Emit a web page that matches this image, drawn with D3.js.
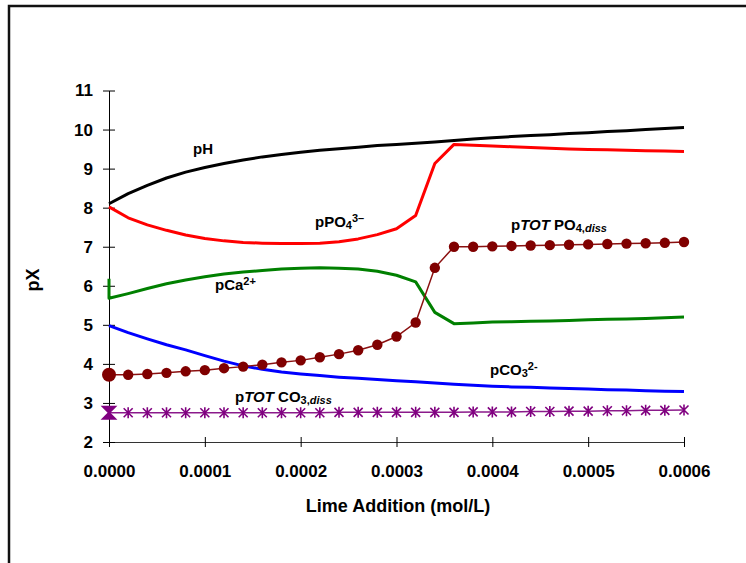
<!DOCTYPE html>
<html>
<head>
<meta charset="utf-8">
<script src="https://cdn.jsdelivr.net/npm/d3@7"></script>
<style>
  body { margin: 0; background: #fff; }
  svg { display: block; font-family: "Liberation Sans", Arial, sans-serif; }
  .lbl { font-size: 15px; font-weight: bold; }
  .axis text { font-size: 17px; font-weight: bold; fill: #000; }
</style>
</head>
<body>
<svg width="746" height="563"></svg>
<script>
// lime dose (mol/L)
const lime = [0, 0.00002, 0.00004, 0.00006, 0.00008, 0.0001, 0.00012, 0.00014, 0.00016, 0.00018,
  0.0002, 0.00022, 0.00024, 0.00026, 0.00028, 0.0003, 0.00032, 0.00034, 0.00036, 0.00038,
  0.0004, 0.00042, 0.00044, 0.00046, 0.00048, 0.0005, 0.00052, 0.00054, 0.00056, 0.00058, 0.0006];

const pH = [8.10, 8.36, 8.57, 8.76, 8.91, 9.03, 9.13, 9.22, 9.30, 9.36,
  9.42, 9.47, 9.51, 9.55, 9.59, 9.62, 9.65, 9.68, 9.72, 9.76,
  9.79, 9.82, 9.85, 9.87, 9.90, 9.92, 9.95, 9.97, 10.00, 10.03, 10.05];

const pPO4 = [8.02, 7.74, 7.56, 7.42, 7.30, 7.21, 7.15, 7.11, 7.09, 7.08,
  7.08, 7.09, 7.13, 7.20, 7.31, 7.46, 7.80, 9.13, 9.62, 9.60,
  9.58, 9.56, 9.54, 9.52, 9.50, 9.49, 9.48, 9.47, 9.46, 9.45, 9.44];

const pCaStart = 6.18; // value before the first drop at zero dose
const pCa = [5.68, 5.80, 5.93, 6.05, 6.15, 6.23, 6.30, 6.35, 6.39, 6.43,
  6.45, 6.46, 6.45, 6.43, 6.37, 6.27, 6.10, 5.32, 5.03, 5.05,
  5.07, 5.08, 5.09, 5.10, 5.11, 5.13, 5.14, 5.15, 5.16, 5.18, 5.20];

const pCO3 = [4.98, 4.80, 4.64, 4.49, 4.36, 4.21, 4.07, 3.95, 3.86, 3.79,
  3.74, 3.70, 3.66, 3.63, 3.60, 3.57, 3.54, 3.51, 3.48, 3.45,
  3.43, 3.41, 3.40, 3.38, 3.37, 3.36, 3.34, 3.33, 3.31, 3.30, 3.29];

const pTotPO4 = [3.72, 3.72, 3.74, 3.77, 3.81, 3.84, 3.89, 3.93, 3.98, 4.04,
  4.09, 4.17, 4.25, 4.35, 4.49, 4.70, 5.06, 6.46, 7.00, 7.00,
  7.01, 7.02, 7.03, 7.04, 7.05, 7.06, 7.07, 7.08, 7.09, 7.10, 7.12];

const pTotCO3 = [2.75, 2.75, 2.75, 2.75, 2.75, 2.75, 2.75, 2.75, 2.75, 2.75,
  2.75, 2.75, 2.76, 2.76, 2.76, 2.76, 2.76, 2.76, 2.76, 2.77,
  2.77, 2.77, 2.78, 2.78, 2.79, 2.79, 2.80, 2.80, 2.81, 2.81, 2.82];

const xTicks = [0, 0.0001, 0.0002, 0.0003, 0.0004, 0.0005, 0.0006];
const yTicks = [2, 3, 4, 5, 6, 7, 8, 9, 10, 11];

const svg = d3.select("svg");

// outer frame (runs off the right and bottom edges)
svg.append("rect")
  .attr("x", 9).attr("y", 6)
  .attr("width", 760).attr("height", 600)
  .attr("fill", "none").attr("stroke", "#111").attr("stroke-width", 2.5);

const x = d3.scaleLinear().domain([0, 0.0006]).range([109, 684]);
const y = d3.scaleLinear().domain([2, 11]).range([442, 90.5]);

const pts = v => v.map((d, i) => [lime[i], d]);
const line = d3.line().x(d => x(d[0])).y(d => y(d[1]));

// axes
const gx = svg.append("g").attr("class", "axis")
  .attr("transform", "translate(0," + y(2) + ")")
  .call(d3.axisBottom(x).tickValues(xTicks).tickFormat(d3.format(".4f")).tickSizeOuter(0));
gx.selectAll(".tick line").attr("y1", -5).attr("y2", 5).attr("stroke", "#000");
gx.selectAll(".tick text").attr("y", 23).attr("dy", "0.71em");
gx.select(".domain").attr("stroke", "#333");

const gy = svg.append("g").attr("class", "axis")
  .attr("transform", "translate(" + x(0) + ",0)")
  .call(d3.axisLeft(y).tickValues(yTicks).tickSizeOuter(0));
gy.selectAll(".tick line").attr("x1", -6).attr("x2", 6).attr("stroke", "#000");
gy.selectAll(".tick text").attr("x", -16);
gy.select(".domain").attr("stroke", "#000");

svg.append("text")
  .attr("x", 398).attr("y", 512)
  .attr("text-anchor", "middle")
  .style("font-size", "18px").style("font-weight", "bold")
  .text("Lime Addition (mol/L)");

svg.append("text")
  .attr("transform", "translate(39,280) rotate(-90)")
  .attr("text-anchor", "middle")
  .style("font-size", "18px").style("font-weight", "bold")
  .text("pX");

// thick curves
const thick = [
  { v: pH, c: "#000000" },
  { v: pPO4, c: "#ff0000" },
  { v: pCO3, c: "#0000ff" }
];
thick.forEach(s => {
  svg.append("path").datum(pts(s.v))
    .attr("d", line).attr("fill", "none")
    .attr("stroke", s.c).attr("stroke-width", 3).attr("stroke-linejoin", "round");
});
svg.append("path").datum([[0, pCaStart]].concat(pts(pCa)))
  .attr("d", line).attr("fill", "none")
  .attr("stroke", "#008000").attr("stroke-width", 3).attr("stroke-linejoin", "round");

// total phosphate with circles
svg.append("path").datum(pts(pTotPO4))
  .attr("d", line).attr("fill", "none")
  .attr("stroke", "#8b1010").attr("stroke-width", 1.5);
svg.selectAll(".dot").data(pts(pTotPO4)).enter().append("circle")
  .attr("cx", d => x(d[0])).attr("cy", d => y(d[1]))
  .attr("r", (d, i) => i === 0 ? 7 : 5.2)
  .attr("fill", "#800000");

// total carbonate with stars
svg.append("path").datum(pts(pTotCO3))
  .attr("d", line).attr("fill", "none")
  .attr("stroke", "#8b1a8b").attr("stroke-width", 1.5);
const star = "M-4.5,-4.5L4.5,4.5M-4.5,4.5L4.5,-4.5M0,-5.5L0,5.5";
svg.selectAll(".star").data(pts(pTotCO3)).enter().append("path")
  .attr("transform", d => "translate(" + x(d[0]) + "," + y(d[1]) + ")")
  .attr("d", (d, i) => i === 0 ? "M-6,-6L6,-6L-6,6L6,6Z" : star)
  .attr("fill", (d, i) => i === 0 ? "#800080" : "none")
  .attr("stroke", "#800080").attr("stroke-width", (d, i) => i === 0 ? 2 : 1.6);

// curve labels
function label(px, py, parts) {
  const t = svg.append("text").attr("class", "lbl").attr("x", px).attr("y", py);
  parts.forEach(p => {
    const s = t.append("tspan").text(p.t);
    if (p.i) s.style("font-style", "italic");
    if (p.sub) s.attr("baseline-shift", "-22%").style("font-size", "11px");
    if (p.sup) s.attr("baseline-shift", "45%").style("font-size", "11px");
  });
}
label(193, 154, [{ t: "pH" }]);
label(315, 227, [{ t: "pPO" }, { t: "4", sub: true }, { t: "3–", sup: true }]);
label(511, 230, [{ t: "p" }, { t: "TOT", i: true }, { t: " PO" }, { t: "4,", sub: true }, { t: "diss", sub: true, i: true }]);
label(215, 290, [{ t: "pCa" }, { t: "2+", sup: true }]);
label(490, 375, [{ t: "pCO" }, { t: "3", sub: true }, { t: "2-", sup: true }]);
label(235, 402, [{ t: "p" }, { t: "TOT", i: true }, { t: " CO" }, { t: "3,", sub: true }, { t: "diss", sub: true, i: true }]);
</script>
</body>
</html>
